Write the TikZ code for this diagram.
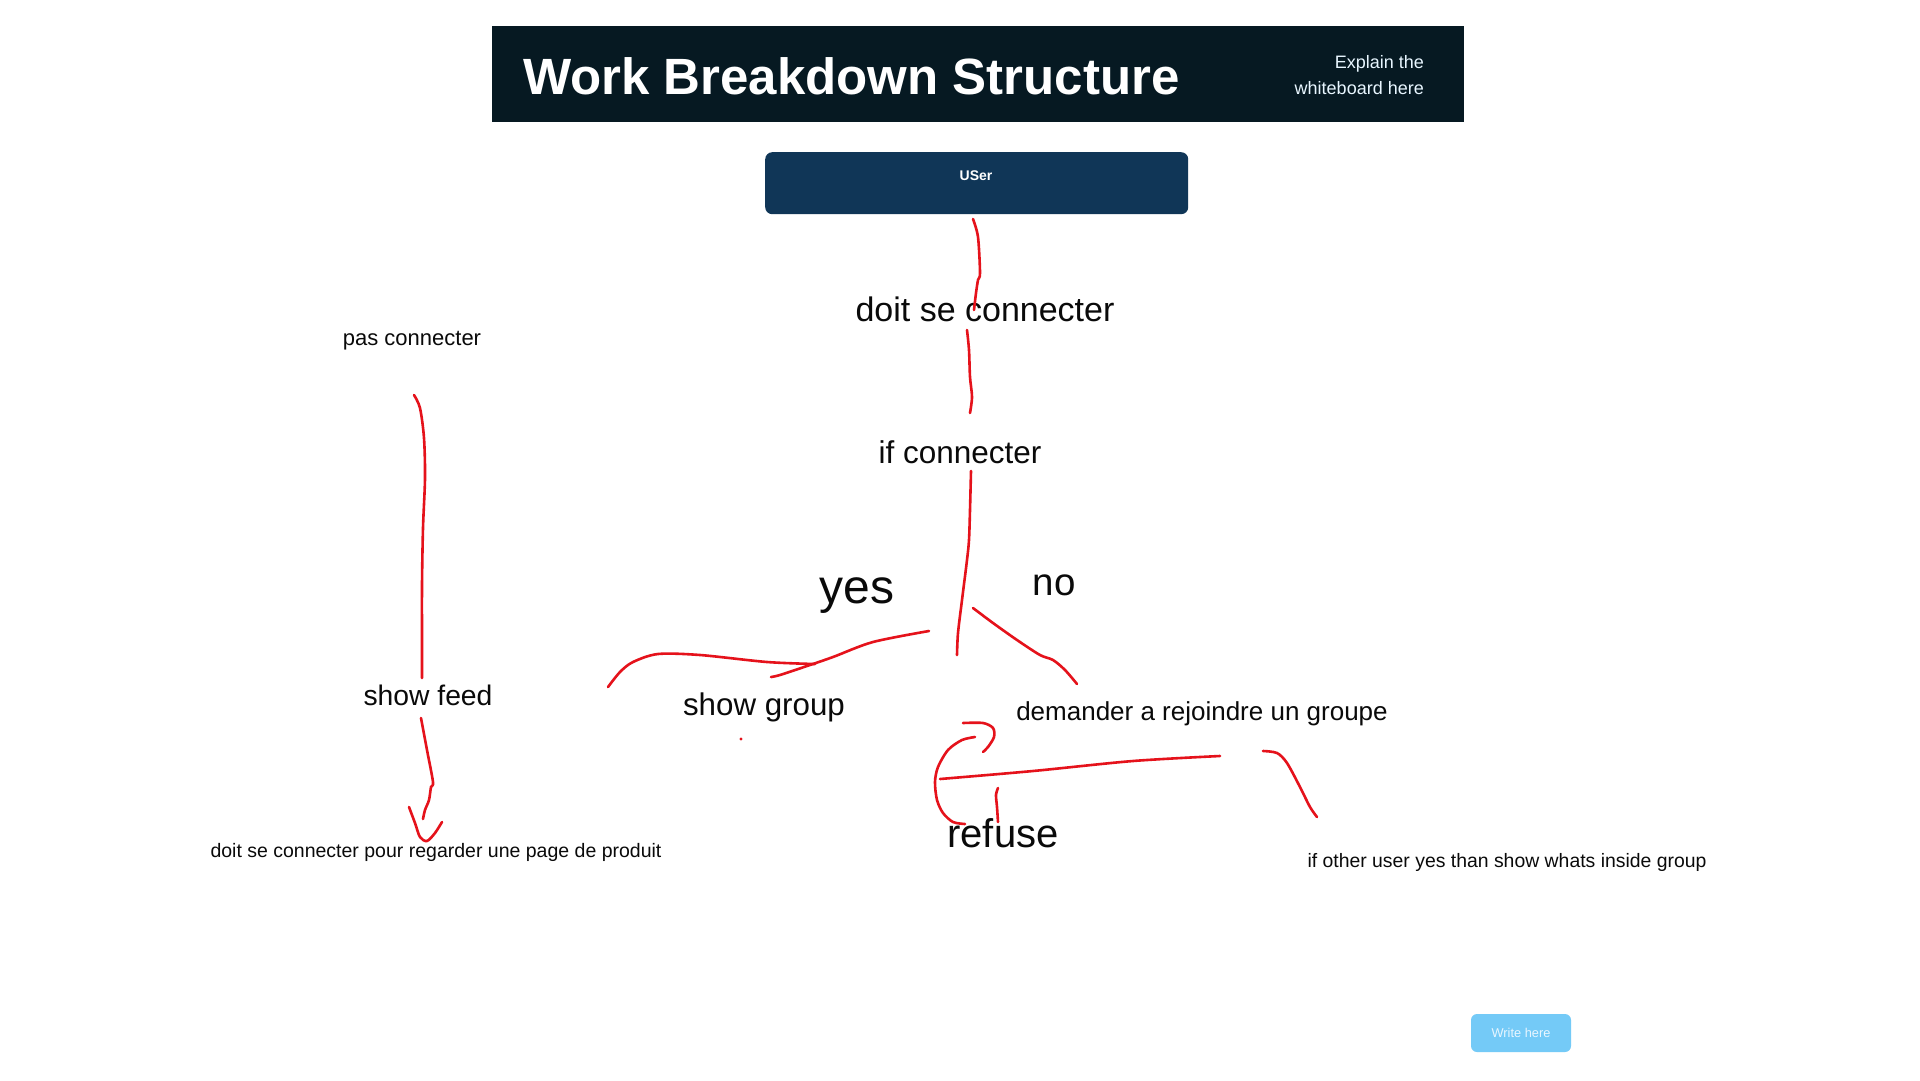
\documentclass[tikz,border=0pt]{standalone}
\usepackage{fontspec}
\setmainfont{Liberation Sans}
\definecolor{barbg}{RGB}{6,25,34}
\definecolor{userbg}{RGB}{16,54,87}
\definecolor{btnbg}{RGB}{116,202,247}
\definecolor{btntxt}{RGB}{232,246,255}
\definecolor{pen}{RGB}{229,18,27}
\definecolor{ink}{RGB}{10,10,10}
\newcommand{\fs}[1]{\fontsize{#1}{#1}\selectfont}
\begin{document}
\begin{tikzpicture}[x=1pt,y=-1pt,
  lbl/.style={inner sep=0pt,anchor=base,text=ink},
  redstroke/.style={draw=pen,line width=2.6pt,line cap=round,line join=round}]
\useasboundingbox[fill=white] (0,0) rectangle (1920,1080);
% title bar
\node[fill=barbg,minimum width=972pt,minimum height=96pt,inner sep=0pt,anchor=north west] (bar) at (492,26) {};
\node[inner sep=0pt,anchor=base west,text=white,font=\fs{51}\bfseries] (title) at (523,94) {Work Breakdown Structure};
\node[inner sep=0pt,anchor=base east,text=btntxt,font=\fs{18}] (explain1) at (1424,68) {Explain the};
\node[inner sep=0pt,anchor=base east,text=btntxt,font=\fs{18}] (explain2) at (1424,94) {whiteboard here};
% user box
\node[fill=userbg,rounded corners=7pt,minimum width=423pt,minimum height=62pt,inner sep=0pt,anchor=north west] (userbox) at (765,152) {};
\node[inner sep=0pt,anchor=base,text=white,font=\fs{14}\bfseries] (user) at (976,180) {USer};
% texts
\node[lbl,font=\fs{34}] (doit) at (985,321) {doit se connecter};
\node[lbl,font=\fs{22}] (pas) at (412,345) {pas connecter};
\node[lbl,font=\fs{31.5}] (ifc) at (960,463) {if connecter};
\node[lbl,font=\fs{48}] (yes) at (857,603) {yes};
\node[lbl,font=\fs{38.5}] (no) at (1054,595) {no};
\node[lbl,font=\fs{28.3}] (feed) at (428,705) {show feed};
\node[lbl,font=\fs{31.3}] (group) at (764,715) {show group};
\node[lbl,font=\fs{26}] (demander) at (1202,720) {demander a rejoindre un groupe};
\node[lbl,font=\fs{40}] (refuse) at (1003,847) {refuse};
\node[lbl,font=\fs{19.5}] (produit) at (436,857) {doit se connecter pour regarder une page de produit};
\node[lbl,font=\fs{19.4}] (other) at (1507,867) {if other user yes than show whats inside group};
% button
\node[fill=btnbg,rounded corners=6pt,minimum width=100pt,minimum height=38pt,inner sep=0pt,text=btntxt,font=\fs{12.8}] (write) at (1521,1033) {Write here};
% red strokes
\draw[redstroke] plot[smooth,tension=0.5] coordinates {(973,219) (978,237) (980,273) (978,280) (976,293) (974,310)};
\draw[redstroke] plot[smooth,tension=0.5] coordinates {(967,330) (969,350) (970,377) (972,397) (970,413)};
\draw[redstroke] plot[smooth,tension=0.5] coordinates {(971,471) (970,510) (969,540) (967,560) (962,600) (958,633) (957,655)};
\draw[redstroke] plot[smooth,tension=0.5] coordinates {(973,608) (993,623) (1017,640) (1040,655) (1053,660) (1065,670) (1077,684)};
\draw[redstroke] plot[smooth,tension=0.5] coordinates {(929,631) (873,642) (833,657) (807,666) (780,675) (771,677)};
\draw[redstroke] plot[smooth,tension=0.5] coordinates {(815,664) (767,662) (700,655) (658,654) (633,662) (620,672) (608,687)};
\draw[redstroke] plot[smooth,tension=0.5] coordinates {(414,395) (420,408) (424,438) (425,478) (423,528) (422,585) (422,645) (422,678)};
\draw[redstroke] plot[smooth,tension=0.5] coordinates {(421,718) (427,750) (433,782) (431,787) (429,800) (425,810) (423,819)};
\draw[redstroke] plot[smooth,tension=0.5] coordinates {(409,807) (415,823) (420,837) (427,841) (435,833) (442,822)};
\draw[redstroke] plot[smooth,tension=0.5] coordinates {(963,723) (983,723) (993,728) (994,737) (988,747) (983,752)};
\draw[redstroke] plot[smooth,tension=0.5] coordinates {(975,737) (962,740) (948,750) (938,767) (935,782) (937,800) (943,813) (953,822) (965,824)};
\draw[redstroke] plot[smooth,tension=0.5] coordinates {(940,779) (1033,771) (1133,761) (1220,756)};
\draw[redstroke] plot[smooth,tension=0.5] coordinates {(998,788) (996,795) (997,807) (998,822)};
\draw[redstroke] plot[smooth,tension=0.5] coordinates {(1263,751) (1277,753) (1287,763) (1300,787) (1310,807) (1317,817)};
\fill[pen] (741,739) circle (1.6);
\end{tikzpicture}
\end{document}
